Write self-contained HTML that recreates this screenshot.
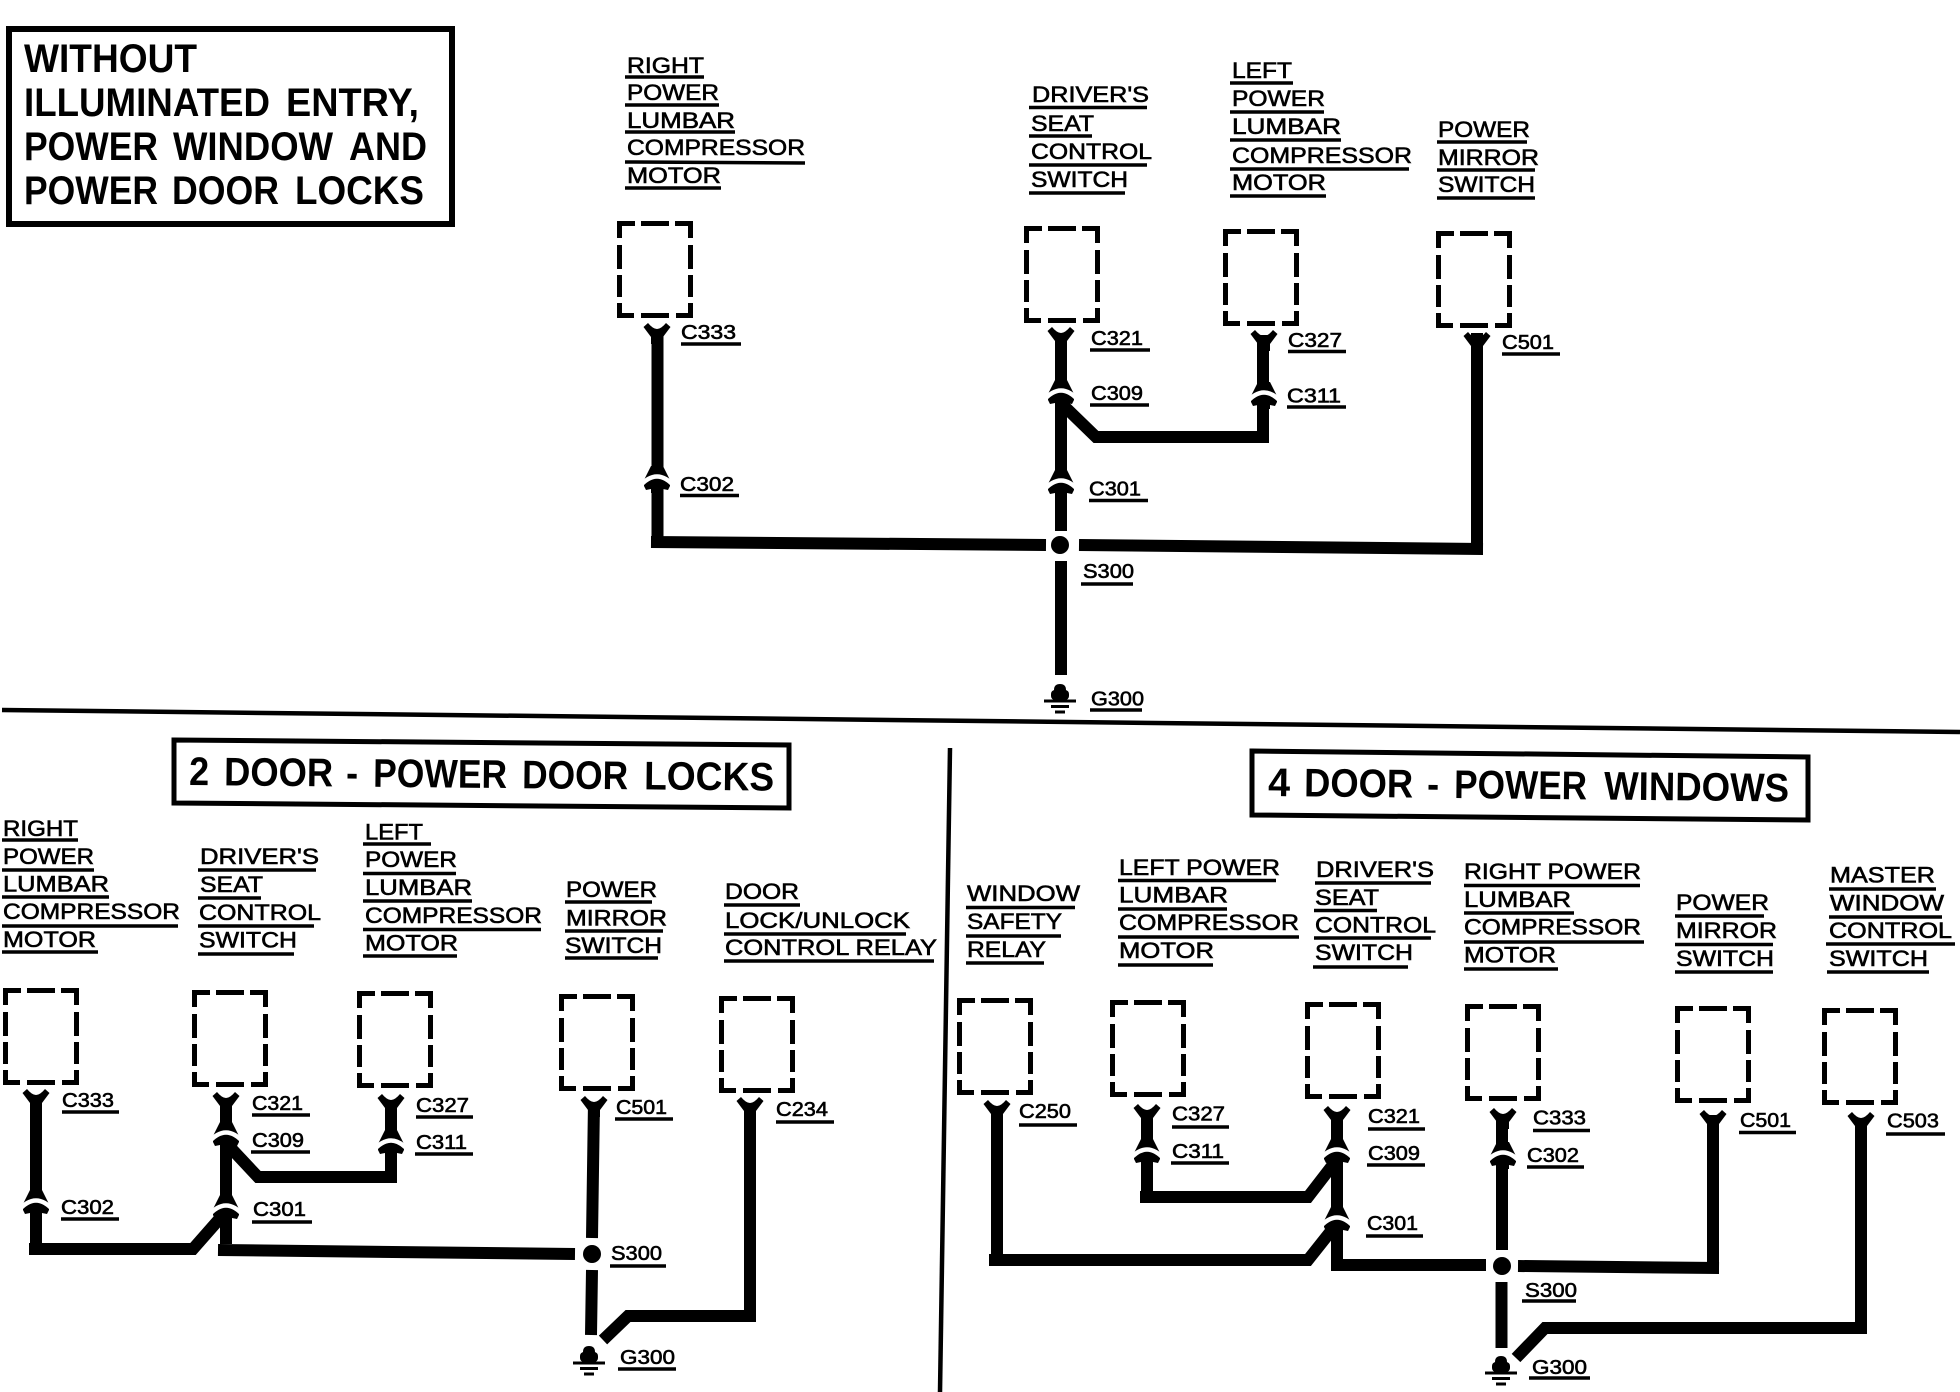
<!DOCTYPE html>
<html><head><meta charset="utf-8"><title>Diagram</title>
<style>
html,body{margin:0;padding:0;background:#fff}
svg{display:block}
text{font-family:"Liberation Sans",sans-serif;fill:#000}
.l text{font-size:22px;stroke:#000;stroke-width:.6px}
.c text{font-size:20px;stroke:#000;stroke-width:.6px}
.t text{font-size:40px;font-weight:bold}
.u{fill:none;stroke:#000;stroke-width:3.5}
.w{fill:none;stroke:#000;stroke-width:12;stroke-linejoin:miter}
</style></head><body>
<svg xmlns="http://www.w3.org/2000/svg" width="1960" height="1392" viewBox="0 0 1960 1392">
<defs>
<g id="box" fill="none" stroke="#000" stroke-width="5"><path d="M2.5 17V2.5H18M58 2.5H73.5V17M2.5 82V94.5H17M59 94.5H73.5V82M24 2.5H52M24 94.5H52M2.5 24V48M2.5 54V76M73.5 24V48M73.5 54V76"/></g>
<path id="fork" d="M-13.5 3L-9 -1Q-4 5 0 5Q4 5 9 -1L13.5 3L6 13V20H-6V13Z"/>
<g id="conn"><path d="M-6 -13L-13 1V7L-11 11L-6 10V14H6V10L11 11L13 7V1L6 -13Z"/><path d="M-18 8Q0 -13 18 8" fill="none" stroke="#fff" stroke-width="4.5"/></g>
<g id="gnd"><path d="M-6 14V6Q-6 0 0 0Q6 0 6 6V14H-6Z"/><rect x="-9" y="6" width="18" height="10" rx="4"/><path d="M-16 17H16M-9 22.5H9M-5 28H5" stroke="#000" stroke-width="3" fill="none"/></g>
</defs>

<!-- dividers -->
<path d="M2 710L1960 732" stroke="#000" stroke-width="4.5" fill="none"/>
<path d="M950 748L940 1392" stroke="#000" stroke-width="4.5" fill="none"/>

<!-- title boxes -->
<rect x="9" y="29" width="443" height="195" fill="none" stroke="#000" stroke-width="6"/>
<path d="M174 740L789 745V808L174 803Z" fill="none" stroke="#000" stroke-width="5"/>
<path d="M1252 751L1808 757V820L1252 815Z" fill="none" stroke="#000" stroke-width="5"/>
<g class="t">
<text x="24" y="72" textLength="173" lengthAdjust="spacingAndGlyphs">WITHOUT</text>
<text x="24" y="116" textLength="246" lengthAdjust="spacingAndGlyphs">ILLUMINATED</text>
<text x="286" y="116" textLength="133" lengthAdjust="spacingAndGlyphs">ENTRY,</text>
<text x="24" y="160" textLength="134" lengthAdjust="spacingAndGlyphs">POWER</text>
<text x="173" y="160" textLength="160" lengthAdjust="spacingAndGlyphs">WINDOW</text>
<text x="349" y="160" textLength="78" lengthAdjust="spacingAndGlyphs">AND</text>
<text x="24" y="204" textLength="134" lengthAdjust="spacingAndGlyphs">POWER</text>
<text x="172" y="204" textLength="107" lengthAdjust="spacingAndGlyphs">DOOR</text>
<text x="295" y="204" textLength="129" lengthAdjust="spacingAndGlyphs">LOCKS</text>
<g transform="rotate(.55 189 785)">
<text x="189" y="785" textLength="20" lengthAdjust="spacingAndGlyphs">2</text>
<text x="224" y="785" textLength="109" lengthAdjust="spacingAndGlyphs">DOOR</text>
<text x="346" y="785" textLength="12" lengthAdjust="spacingAndGlyphs">-</text>
<text x="373" y="785" textLength="134" lengthAdjust="spacingAndGlyphs">POWER</text>
<text x="522" y="785" textLength="106" lengthAdjust="spacingAndGlyphs">DOOR</text>
<text x="644" y="785" textLength="130" lengthAdjust="spacingAndGlyphs">LOCKS</text>
</g>
<g transform="rotate(.6 1268 796)">
<text x="1268" y="796" textLength="22" lengthAdjust="spacingAndGlyphs">4</text>
<text x="1304" y="796" textLength="109" lengthAdjust="spacingAndGlyphs">DOOR</text>
<text x="1427" y="796" textLength="12" lengthAdjust="spacingAndGlyphs">-</text>
<text x="1454" y="796" textLength="133" lengthAdjust="spacingAndGlyphs">POWER</text>
<text x="1604" y="796" textLength="185" lengthAdjust="spacingAndGlyphs">WINDOWS</text>
</g>
</g>

<!-- dashed component boxes -->
<use href="#box" x="617" y="221"/><use href="#box" x="1024" y="226"/><use href="#box" x="1223" y="229"/><use href="#box" x="1436" y="231"/>
<use href="#box" x="3" y="988"/><use href="#box" x="192" y="990"/><use href="#box" x="357" y="991"/><use href="#box" x="559" y="994"/><use href="#box" x="719" y="996"/>
<use href="#box" x="957" y="998"/><use href="#box" x="1110" y="1000"/><use href="#box" x="1305" y="1002"/><use href="#box" x="1465" y="1004"/><use href="#box" x="1675" y="1006"/><use href="#box" x="1822" y="1008"/>

<!-- wires top -->
<path class="w" d="M657.5 330V542L651 542M651 542L1046 545M1079 545L1483 549M1477 333V555"/>
<path class="w" d="M1061 335V531M1061 561V675"/>
<path class="w" d="M1063 405L1096 437H1269M1263 335V437"/>
<circle cx="1060" cy="545" r="9"/>
<use href="#gnd" x="1060" y="684"/>
<use href="#fork" x="657" y="324"/><use href="#fork" x="1061" y="328"/><use href="#fork" x="1264" y="331"/><use href="#fork" x="1477" y="333"/>
<use href="#conn" x="657" y="479"/><use href="#conn" x="1061" y="393"/><use href="#conn" x="1264" y="395"/><use href="#conn" x="1061" y="483"/>

<!-- wires middle-left -->
<path class="w" d="M36 1095V1250M29 1249H193L222 1216"/>
<path class="w" d="M226 1100V1244M218 1250L575 1254"/>
<path class="w" d="M228 1145L258 1177H397M391 1100V1177"/>
<path class="w" d="M594 1102L592 1238M592 1270L591 1335"/>
<path class="w" d="M603 1340L628 1316H756M750 1103V1316"/>
<circle cx="592" cy="1254" r="9"/>
<use href="#gnd" x="589" y="1346"/>
<use href="#fork" x="36" y="1090"/><use href="#fork" x="226" y="1093"/><use href="#fork" x="391" y="1095"/><use href="#fork" x="594" y="1097"/><use href="#fork" x="750" y="1098"/>
<use href="#conn" x="36" y="1203"/><use href="#conn" x="226" y="1135"/><use href="#conn" x="226" y="1208"/><use href="#conn" x="391" y="1143"/>

<!-- wires lower-right -->
<path class="w" d="M997 1106V1260M989 1260H1308L1335 1226"/>
<path class="w" d="M1147 1110V1197M1140 1197H1308L1335 1162"/>
<path class="w" d="M1337 1112V1265M1331 1265H1486M1518 1266L1719 1268M1713 1115V1274"/>
<path class="w" d="M1502 1114V1250M1501.5 1282V1348"/>
<path class="w" d="M1516 1358L1545 1328H1867M1861 1118V1334"/>
<circle cx="1502" cy="1266" r="9"/>
<use href="#gnd" x="1501" y="1356"/>
<use href="#fork" x="997" y="1101"/><use href="#fork" x="1147" y="1105"/><use href="#fork" x="1337" y="1107"/><use href="#fork" x="1503" y="1109"/><use href="#fork" x="1713" y="1111"/><use href="#fork" x="1861" y="1113"/>
<use href="#conn" x="1147" y="1152"/><use href="#conn" x="1337" y="1152"/><use href="#conn" x="1337" y="1220"/><use href="#conn" x="1503" y="1155"/>

<!-- component labels -->
<g class="l">
<text x="627" y="73" textLength="77" lengthAdjust="spacingAndGlyphs">RIGHT</text>
<text x="627" y="100" textLength="92" lengthAdjust="spacingAndGlyphs">POWER</text>
<text x="627" y="128" textLength="108" lengthAdjust="spacingAndGlyphs">LUMBAR</text>
<text x="627" y="155" textLength="178" lengthAdjust="spacingAndGlyphs">COMPRESSOR</text>
<text x="627" y="183" textLength="94" lengthAdjust="spacingAndGlyphs">MOTOR</text>

<text x="1032" y="102" textLength="117" lengthAdjust="spacingAndGlyphs">DRIVER'S</text>
<text x="1031" y="131" textLength="63" lengthAdjust="spacingAndGlyphs">SEAT</text>
<text x="1031" y="159" textLength="121" lengthAdjust="spacingAndGlyphs">CONTROL</text>
<text x="1031" y="187" textLength="97" lengthAdjust="spacingAndGlyphs">SWITCH</text>

<text x="1232" y="78" textLength="60" lengthAdjust="spacingAndGlyphs">LEFT</text>
<text x="1232" y="106" textLength="93" lengthAdjust="spacingAndGlyphs">POWER</text>
<text x="1232" y="134" textLength="109" lengthAdjust="spacingAndGlyphs">LUMBAR</text>
<text x="1232" y="163" textLength="180" lengthAdjust="spacingAndGlyphs">COMPRESSOR</text>
<text x="1232" y="190" textLength="94" lengthAdjust="spacingAndGlyphs">MOTOR</text>

<text x="1438" y="137" textLength="92" lengthAdjust="spacingAndGlyphs">POWER</text>
<text x="1438" y="165" textLength="101" lengthAdjust="spacingAndGlyphs">MIRROR</text>
<text x="1438" y="192" textLength="97" lengthAdjust="spacingAndGlyphs">SWITCH</text>

<text x="3" y="836" textLength="75" lengthAdjust="spacingAndGlyphs">RIGHT</text>
<text x="3" y="864" textLength="91" lengthAdjust="spacingAndGlyphs">POWER</text>
<text x="3" y="891.5" textLength="106" lengthAdjust="spacingAndGlyphs">LUMBAR</text>
<text x="3" y="919" textLength="177" lengthAdjust="spacingAndGlyphs">COMPRESSOR</text>
<text x="3" y="947" textLength="93" lengthAdjust="spacingAndGlyphs">MOTOR</text>

<text x="200" y="864" textLength="119" lengthAdjust="spacingAndGlyphs">DRIVER'S</text>
<text x="200" y="892" textLength="63" lengthAdjust="spacingAndGlyphs">SEAT</text>
<text x="199" y="920" textLength="122" lengthAdjust="spacingAndGlyphs">CONTROL</text>
<text x="199" y="947.5" textLength="98" lengthAdjust="spacingAndGlyphs">SWITCH</text>

<text x="365" y="839.5" textLength="58" lengthAdjust="spacingAndGlyphs">LEFT</text>
<text x="365" y="867" textLength="92" lengthAdjust="spacingAndGlyphs">POWER</text>
<text x="365" y="895" textLength="107" lengthAdjust="spacingAndGlyphs">LUMBAR</text>
<text x="365" y="923" textLength="177" lengthAdjust="spacingAndGlyphs">COMPRESSOR</text>
<text x="365" y="950.5" textLength="93" lengthAdjust="spacingAndGlyphs">MOTOR</text>

<text x="566" y="897" textLength="91" lengthAdjust="spacingAndGlyphs">POWER</text>
<text x="566" y="925.5" textLength="101" lengthAdjust="spacingAndGlyphs">MIRROR</text>
<text x="565" y="953" textLength="97" lengthAdjust="spacingAndGlyphs">SWITCH</text>

<text x="725" y="899" textLength="74" lengthAdjust="spacingAndGlyphs">DOOR</text>
<text x="725" y="928" textLength="185" lengthAdjust="spacingAndGlyphs">LOCK/UNLOCK</text>
<text x="725" y="955" textLength="212" lengthAdjust="spacingAndGlyphs">CONTROL RELAY</text>

<text x="967" y="901" textLength="113" lengthAdjust="spacingAndGlyphs">WINDOW</text>
<text x="967" y="929" textLength="95" lengthAdjust="spacingAndGlyphs">SAFETY</text>
<text x="967" y="957" textLength="79" lengthAdjust="spacingAndGlyphs">RELAY</text>

<text x="1119" y="875" textLength="161" lengthAdjust="spacingAndGlyphs">LEFT POWER</text>
<text x="1119" y="902.5" textLength="109" lengthAdjust="spacingAndGlyphs">LUMBAR</text>
<text x="1119" y="930" textLength="180" lengthAdjust="spacingAndGlyphs">COMPRESSOR</text>
<text x="1119" y="958" textLength="95" lengthAdjust="spacingAndGlyphs">MOTOR</text>

<text x="1316" y="877" textLength="118" lengthAdjust="spacingAndGlyphs">DRIVER'S</text>
<text x="1315" y="905" textLength="64" lengthAdjust="spacingAndGlyphs">SEAT</text>
<text x="1315" y="932.5" textLength="121" lengthAdjust="spacingAndGlyphs">CONTROL</text>
<text x="1315" y="960" textLength="98" lengthAdjust="spacingAndGlyphs">SWITCH</text>

<text x="1464" y="879" textLength="177" lengthAdjust="spacingAndGlyphs">RIGHT POWER</text>
<text x="1464" y="907" textLength="107" lengthAdjust="spacingAndGlyphs">LUMBAR</text>
<text x="1464" y="934.5" textLength="177" lengthAdjust="spacingAndGlyphs">COMPRESSOR</text>
<text x="1464" y="962.5" textLength="92" lengthAdjust="spacingAndGlyphs">MOTOR</text>

<text x="1676" y="910" textLength="93" lengthAdjust="spacingAndGlyphs">POWER</text>
<text x="1676" y="938" textLength="101" lengthAdjust="spacingAndGlyphs">MIRROR</text>
<text x="1676" y="966" textLength="98" lengthAdjust="spacingAndGlyphs">SWITCH</text>

<text x="1830" y="882.5" textLength="105" lengthAdjust="spacingAndGlyphs">MASTER</text>
<text x="1830" y="910.5" textLength="114" lengthAdjust="spacingAndGlyphs">WINDOW</text>
<text x="1829" y="938" textLength="123" lengthAdjust="spacingAndGlyphs">CONTROL</text>
<text x="1829" y="966" textLength="99" lengthAdjust="spacingAndGlyphs">SWITCH</text>
</g>

<!-- component label underlines -->
<path class="u" d="M625 77H704M625 105H719M625 132H735M625 162L805 163M625 188H721
M1029 107.5H1147M1029 136H1092M1029 165H1147M1029 193H1125
M1230 83H1293M1230 112H1324M1230 140H1341M1230 169H1409M1230 196H1326
M1437 142H1527M1437 170H1535M1437 198H1535
M2 840H78M2 870H94M2 897H109M2 926H178M2 952H98
M198 870H316M198 898H261M198 926H314M198 954H294
M363 844H431M363 873.5H456M363 901H472M363 929.5H541M363 956H457
M565 902H652M565 931H663M565 958H658
M724 905H800M724 934H906M724 961H934
M966 907.5H1075M966 936H1061M966 963H1044
M1118 880.5H1276M1118 909H1227M1118 937H1299M1118 965H1213
M1315 883H1431M1314 910.5H1377M1314 938H1431M1313 967H1408
M1464 885.5H1640M1464 913H1574M1464 942H1644M1464 969H1558
M1675 916H1764M1675 944.5H1773M1675 972H1773
M1829 889H1936M1829 917H1942M1826 944H1955M1827 972H1929"/>

<!-- connector labels -->
<g class="c">
<text x="681" y="339" textLength="55" lengthAdjust="spacingAndGlyphs">C333</text>
<text x="680" y="491" textLength="54" lengthAdjust="spacingAndGlyphs">C302</text>
<text x="1091" y="345" textLength="52" lengthAdjust="spacingAndGlyphs">C321</text>
<text x="1091" y="400" textLength="52" lengthAdjust="spacingAndGlyphs">C309</text>
<text x="1288" y="347" textLength="54" lengthAdjust="spacingAndGlyphs">C327</text>
<text x="1287" y="402.5" textLength="54" lengthAdjust="spacingAndGlyphs">C311</text>
<text x="1089" y="495.5" textLength="52" lengthAdjust="spacingAndGlyphs">C301</text>
<text x="1502" y="349" textLength="52" lengthAdjust="spacingAndGlyphs">C501</text>
<text x="1083" y="578" textLength="51" lengthAdjust="spacingAndGlyphs">S300</text>
<text x="1091" y="705.5" textLength="53" lengthAdjust="spacingAndGlyphs">G300</text>

<text x="62" y="1107" textLength="52" lengthAdjust="spacingAndGlyphs">C333</text>
<text x="252" y="1110" textLength="51" lengthAdjust="spacingAndGlyphs">C321</text>
<text x="252" y="1147" textLength="52" lengthAdjust="spacingAndGlyphs">C309</text>
<text x="416" y="1112" textLength="53" lengthAdjust="spacingAndGlyphs">C327</text>
<text x="416" y="1149" textLength="51" lengthAdjust="spacingAndGlyphs">C311</text>
<text x="616" y="1114" textLength="51" lengthAdjust="spacingAndGlyphs">C501</text>
<text x="776" y="1116" textLength="52" lengthAdjust="spacingAndGlyphs">C234</text>
<text x="61" y="1214" textLength="53" lengthAdjust="spacingAndGlyphs">C302</text>
<text x="253" y="1216" textLength="53" lengthAdjust="spacingAndGlyphs">C301</text>
<text x="611" y="1260" textLength="51" lengthAdjust="spacingAndGlyphs">S300</text>
<text x="620" y="1364" textLength="55" lengthAdjust="spacingAndGlyphs">G300</text>

<text x="1019" y="1118" textLength="52" lengthAdjust="spacingAndGlyphs">C250</text>
<text x="1172" y="1120.5" textLength="53" lengthAdjust="spacingAndGlyphs">C327</text>
<text x="1172" y="1158" textLength="52" lengthAdjust="spacingAndGlyphs">C311</text>
<text x="1368" y="1123" textLength="52" lengthAdjust="spacingAndGlyphs">C321</text>
<text x="1368" y="1160" textLength="52" lengthAdjust="spacingAndGlyphs">C309</text>
<text x="1533" y="1124.5" textLength="53" lengthAdjust="spacingAndGlyphs">C333</text>
<text x="1527" y="1162" textLength="52" lengthAdjust="spacingAndGlyphs">C302</text>
<text x="1367" y="1230" textLength="51" lengthAdjust="spacingAndGlyphs">C301</text>
<text x="1740" y="1127" textLength="51" lengthAdjust="spacingAndGlyphs">C501</text>
<text x="1887" y="1127.5" textLength="52" lengthAdjust="spacingAndGlyphs">C503</text>
<text x="1525" y="1297" textLength="52" lengthAdjust="spacingAndGlyphs">S300</text>
<text x="1532" y="1374" textLength="55" lengthAdjust="spacingAndGlyphs">G300</text>
</g>

<path class="u" d="M681 344H741M680 495.5H739M1090 350H1150M1090 405H1149M1288 351.5H1346M1287 407H1346M1089 500.5H1148M1502 354H1560M1081 584H1133M1090 710H1142
M62 1112H119M252 1115H310M251 1152H310M416 1117H473M415 1154H473M615 1119H673M776 1122H834M61 1219H119M252 1222H312M610 1266H666M618 1369H676
M1019 1125H1077M1172 1127H1229M1171 1163H1229M1368 1129H1425M1367 1165H1425M1533 1130.5H1590M1527 1167H1584M1366 1236H1423M1739 1132.5H1796M1886 1134H1945M1522 1301H1576M1529 1378H1590"/>
</svg>
</body></html>
